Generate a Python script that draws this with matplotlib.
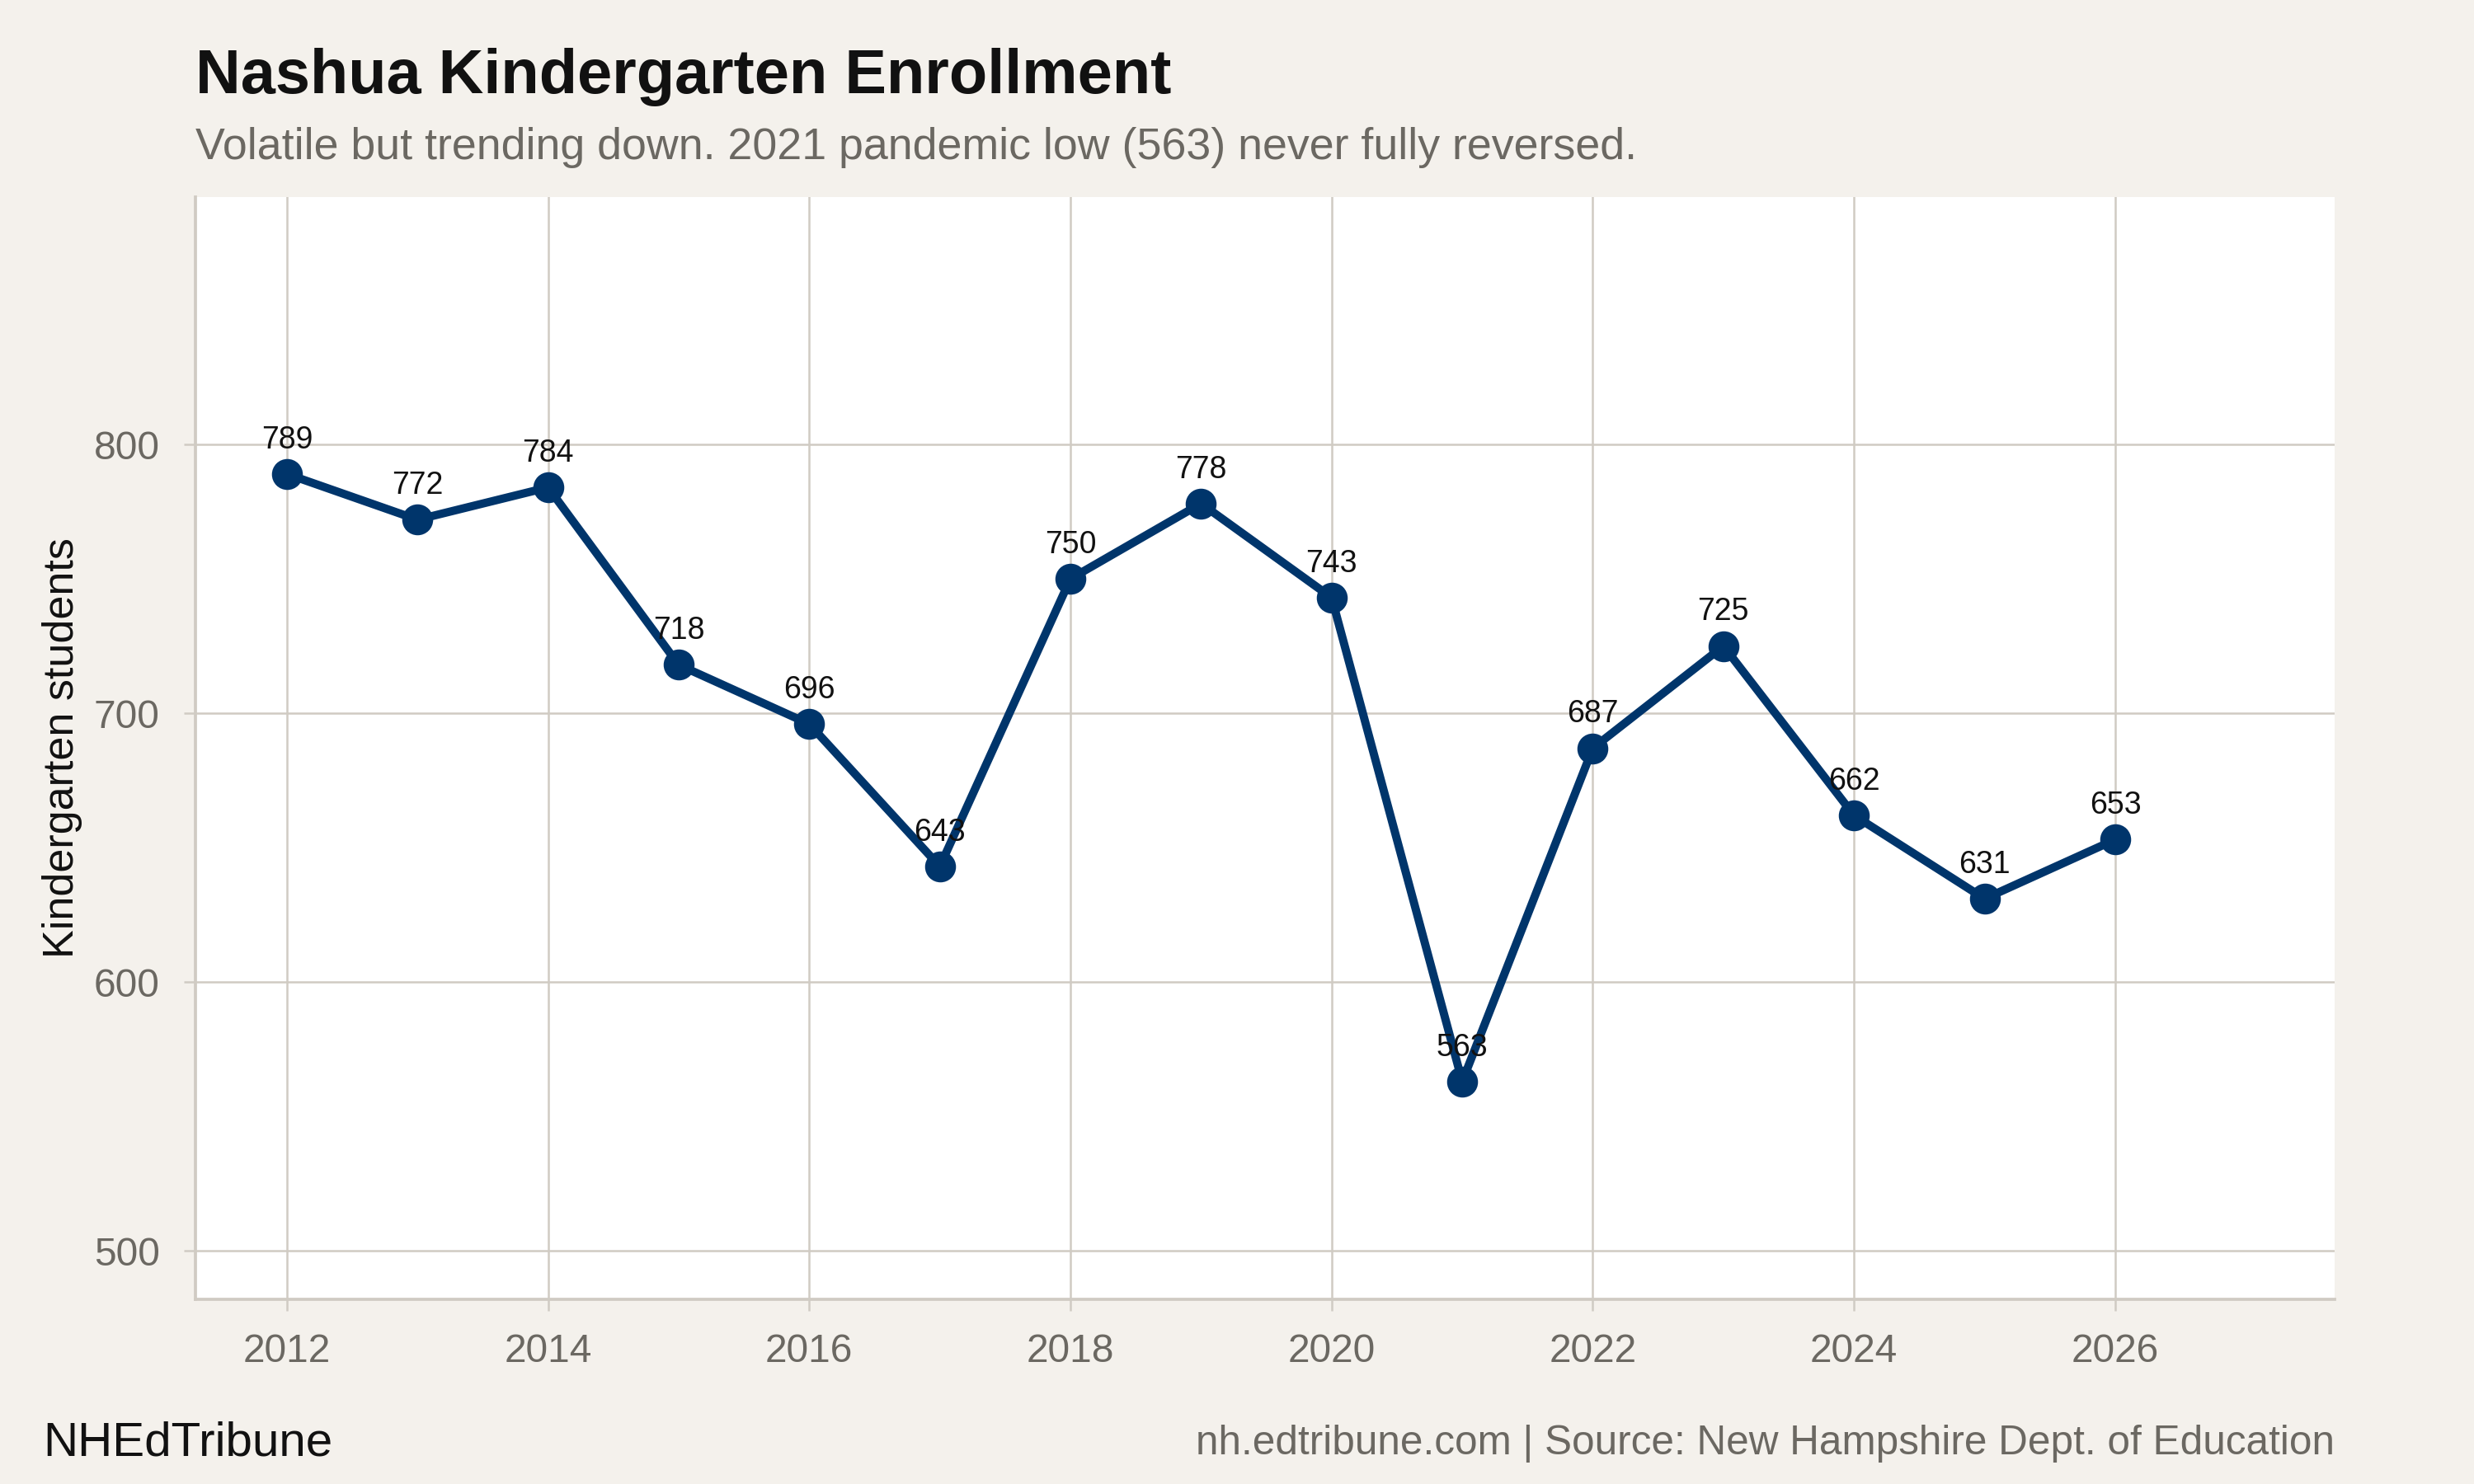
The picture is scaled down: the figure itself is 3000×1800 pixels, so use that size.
import numpy as np
import matplotlib
matplotlib.use("Agg")
from matplotlib import pyplot as plt

years = [2012, 2013, 2014, 2015, 2016, 2017, 2018, 2019, 2020,
         2021, 2022, 2023, 2024, 2025, 2026]
students = [789, 772, 784, 718, 696, 643, 750, 778, 743,
            563, 687, 725, 662, 631, 653]
x_ticks = [2012, 2014, 2016, 2018, 2020, 2022, 2024, 2026]
y_ticks = [500, 600, 700, 800]

title = "Nashua Kindergarten Enrollment"
subtitle = "Volatile but trending down. 2021 pandemic low (563) never fully reversed."
y_label = "Kindergarten students"
brand = "NHEdTribune"
source = "nh.edtribune.com | Source: New Hampshire Dept. of Education"

bg = "#f4f1ec"
navy = "#00356b"
grid_col = "#d0cbc3"
grey_txt = "#6b6862"

plt.rcParams['font.family'] = ['Liberation Sans', 'DejaVu Sans']

fig = plt.figure(figsize=(10, 6), dpi=300, facecolor=bg)
ax = fig.add_axes([237/3000, 1-1576/1800, (2831-237)/3000, (1576-239)/1800])
ax.set_facecolor("white")

ax.plot(years, students, '-', color=navy, linewidth=2.4, zorder=3,
        solid_capstyle='round', solid_joinstyle='round')
ax.plot(years, students, 'o', color=navy, markersize=8, zorder=4)

for yr, val in zip(years, students):
    ax.annotate(str(val), (yr, val), xytext=(0, 7.5), textcoords='offset points',
                ha='center', va='baseline', fontsize=9, color='#111111', zorder=5)

ax.set_xlim(2011.3, 2027.68)
ax.set_ylim(482, 892)
ax.set_xticks(x_ticks)
ax.set_yticks(y_ticks)
ax.grid(True, color=grid_col, linewidth=0.6, zorder=0)
ax.set_axisbelow(True)

for s in ['top', 'right']:
    ax.spines[s].set_visible(False)
for s in ['left', 'bottom']:
    ax.spines[s].set_color(grid_col)
    ax.spines[s].set_linewidth(0.9)

ax.tick_params(axis='both', length=3.4, width=0.6, color=grid_col,
               labelsize=11.5, labelcolor=grey_txt)
ax.tick_params(axis='x', pad=6.5)
ax.tick_params(axis='y', pad=7)

ax.set_ylabel(y_label, fontsize=12.5, color='#111111', labelpad=10)
ax.yaxis.set_label_coords(-0.053, 0.5)

fig.text(237/3000, 1-113/1800, title, fontsize=18.2, fontweight='bold',
         color='#111111', ha='left', va='baseline')
fig.text(237/3000, 1-193/1800, subtitle, fontsize=12.9, color=grey_txt,
         ha='left', va='baseline')
fig.text(52/3000, 1-1766/1800, brand, fontsize=14, color='#111111',
         ha='left', va='baseline')
fig.text(2831/3000, 1-1764/1800, source, fontsize=11.9, color=grey_txt,
         ha='right', va='baseline')

fig.savefig("out.png", dpi=300, facecolor=bg)
